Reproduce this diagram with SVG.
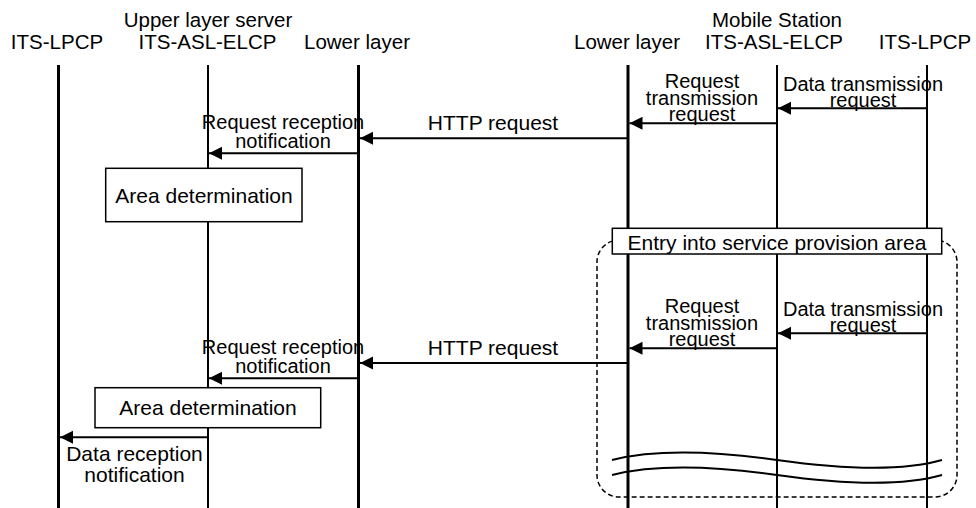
<svg xmlns="http://www.w3.org/2000/svg" width="976" height="508" viewBox="0 0 976 508">
<defs>
<marker id="ah" markerUnits="userSpaceOnUse" markerWidth="14" markerHeight="14" refX="13" refY="6.5" orient="auto">
<path d="M0,0 L13,6.5 L0,13 z" fill="#000"/>
</marker>
<style>
text{font-family:"Liberation Sans",Arial,sans-serif;fill:#000;text-anchor:middle}
.hd{font-size:20.5px}
.lb{font-size:20px}
.bx{font-size:21px}
.ll{stroke:#000;fill:none}
.thick{stroke-width:3}
.thin{stroke-width:2}
.msg{stroke:#000;stroke-width:2;fill:none;marker-end:url(#ah)}
.box{fill:#fff;stroke:#000;stroke-width:1.5}
.region{fill:none;stroke:#000;stroke-width:1.5;stroke-dasharray:5 3}
.wave{fill:none;stroke:#000;stroke-width:2}
</style>
</defs>
<rect width="976" height="508" fill="#fff"/>
<g id="headers">
<text class="hd" x="208" y="27">Upper layer server</text>
<text class="hd" x="777" y="27">Mobile Station</text>
</g>
<g id="region-service-area">
<rect class="region" x="597" y="240" width="360" height="257" rx="22" ry="22"/>
<path class="wave" d="M612,460 C660,448 720,452 777,460 C834,468 900,472 942,460"/>
<path class="wave" d="M612,475 C660,463 720,467 777,475 C834,483 900,487 942,475"/>
</g>
<g id="ll-server-lpcp">
<text class="hd" x="57" y="49">ITS-LPCP</text>
<line class="ll thick" x1="58.5" y1="65" x2="58.5" y2="508"/>
</g>
<g id="ll-server-elcp">
<text class="hd" x="207.5" y="49">ITS-ASL-ELCP</text>
<line class="ll thin" x1="208" y1="65" x2="208" y2="508"/>
</g>
<g id="ll-server-lower">
<text class="hd" x="357" y="49">Lower layer</text>
<line class="ll thick" x1="358.5" y1="65" x2="358.5" y2="508"/>
</g>
<g id="ll-ms-lower">
<text class="hd" x="627" y="49">Lower layer</text>
<line class="ll thick" x1="628" y1="65" x2="628" y2="508"/>
</g>
<g id="ll-ms-elcp">
<text class="hd" x="774" y="49">ITS-ASL-ELCP</text>
<line class="ll thin" x1="777" y1="65" x2="777" y2="508"/>
</g>
<g id="ll-ms-lpcp">
<text class="hd" x="925" y="49">ITS-LPCP</text>
<line class="ll thin" x1="927" y1="65" x2="927" y2="508"/>
</g>
<g id="box-area-1">
<rect class="box" x="105.7" y="168.3" width="196.3" height="53.4"/>
<text class="bx" x="204" y="203">Area determination</text>
</g>
<g id="box-entry">
<rect class="box" x="612.3" y="228.3" width="329.4" height="25.7"/>
<text class="bx" x="777" y="249.5">Entry into service provision area</text>
</g>
<g id="box-area-2">
<rect class="box" x="95" y="387.7" width="225.7" height="40"/>
<text class="bx" x="208" y="415">Area determination</text>
</g>
<g id="connectors">
<line class="msg" x1="927" y1="108.3" x2="778" y2="108.3"/>
<line class="msg" x1="777" y1="123.3" x2="629.5" y2="123.3"/>
<line class="msg" x1="628" y1="138.3" x2="360" y2="138.3"/>
<line class="msg" x1="358.5" y1="153.3" x2="209" y2="153.3"/>
<line class="msg" x1="927" y1="333.3" x2="778" y2="333.3"/>
<line class="msg" x1="777" y1="348.3" x2="629.5" y2="348.3"/>
<line class="msg" x1="628" y1="363" x2="360" y2="363"/>
<line class="msg" x1="358.5" y1="378.3" x2="209" y2="378.3"/>
<line class="msg" x1="208" y1="437.3" x2="60" y2="437.3"/>
<text class="lb" x="863" y="90.5">Data transmission</text>
<text class="lb" x="863" y="106.5">request</text>
<text class="lb" x="702" y="88">Request</text>
<text class="lb" x="702" y="104.5">transmission</text>
<text class="lb" x="702" y="120.5">request</text>
<text class="bx" x="493" y="130">HTTP request</text>
<text class="lb" x="283" y="129">Request reception</text>
<text class="lb" x="283" y="147.5">notification</text>
<text class="lb" x="863" y="315.5">Data transmission</text>
<text class="lb" x="863" y="331.5">request</text>
<text class="lb" x="702" y="313">Request</text>
<text class="lb" x="702" y="329.5">transmission</text>
<text class="lb" x="702" y="345.5">request</text>
<text class="bx" x="493" y="355">HTTP request</text>
<text class="lb" x="283" y="354">Request reception</text>
<text class="lb" x="283" y="372.5">notification</text>
<text class="bx" x="134.5" y="460.5">Data reception</text>
<text class="bx" x="134.5" y="481.5">notification</text>
</g>
</svg>
